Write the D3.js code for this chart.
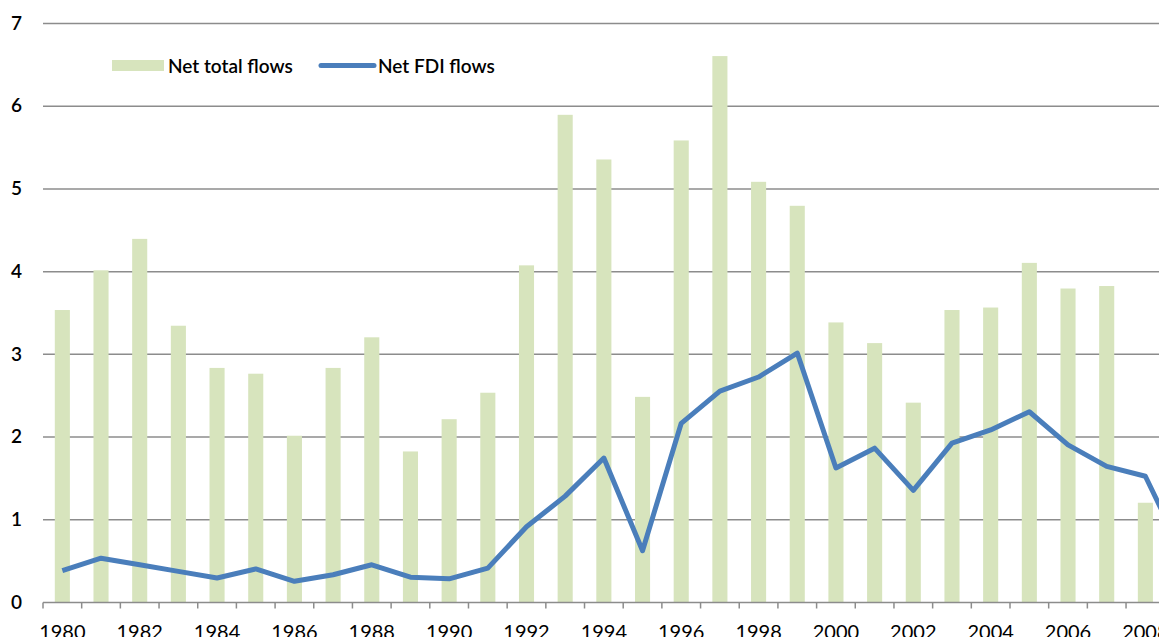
<!DOCTYPE html>
<html lang="en">
  <head>
    <meta charset="utf-8">
    <title>Net total flows and net FDI flows</title>
    <script src="https://cdn.jsdelivr.net/npm/d3@7"></script>
    <style>
      body { margin: 0; background: #fff; }
      svg { display: block; }
      text { font-family: Lato, "Open Sans", sans-serif; fill: #000; }
    </style>
  </head>
  <body>
    <script>

    // values (2009 bar is outside the frame)
    var years = d3.range(1980, 2010);
    var netTotal = [3.53, 4.01, 4.39, 3.34, 2.83, 2.76, 2.01, 2.83, 3.20, 1.82,
                    2.21, 2.53, 4.07, 5.89, 5.35, 2.48, 5.58, 6.60, 5.08, 4.79,
                    3.38, 3.13, 2.41, 3.53, 3.56, 4.10, 3.79, 3.82, 1.20, null];
    var netFdi = [0.38, 0.53, 0.45, 0.37, 0.29, 0.40, 0.25, 0.33, 0.45, 0.30,
                  0.28, 0.41, 0.91, 1.28, 1.74, 0.62, 2.16, 2.55, 2.72, 3.01,
                  1.62, 1.86, 1.35, 1.92, 2.08, 2.30, 1.90, 1.64, 1.52, 0.55];
    var yTicks = [0, 1, 2, 3, 4, 5, 6, 7];

    var w = 1159, h = 637;

    var svg = d3.select("body").append("svg")
        .attr("width", w)
        .attr("height", h);

    var x = d3.scaleBand()
        .domain(years)
        .range([43, 43 + years.length * 38.68])
        .paddingInner(0.61)
        .paddingOuter(0.305);

    var y = d3.scaleLinear()
        .domain([0, 7])
        .range([602, 23]);

    // gridlines
    svg.append("g")
      .selectAll("line")
      .data(yTicks.slice(1))
      .enter().append("line")
        .attr("x1", 43)
        .attr("x2", w)
        .attr("y1", function(d) { return y(d) + 0.5; })
        .attr("y2", function(d) { return y(d) + 0.5; })
        .attr("stroke", "#8c8c8c")
        .attr("stroke-width", 1.5);

    // y labels
    svg.append("g")
      .selectAll("text")
      .data(yTicks)
      .enter().append("text")
        .attr("x", 22)
        .attr("y", function(d) { return y(d); })
        .attr("dy", "0.35em")
        .attr("text-anchor", "end")
        .style("font-size", "19px")
        .style("font-weight", 600)
        .text(function(d) { return d; });

    // bars
    svg.append("g")
      .selectAll("rect")
      .data(years.filter(function(d, i) { return netTotal[i] != null; }))
      .enter().append("rect")
        .attr("x", function(d) { return x(d); })
        .attr("width", x.bandwidth())
        .attr("y", function(d) { return y(netTotal[d - 1980]); })
        .attr("height", function(d) { return y(0) - y(netTotal[d - 1980]); })
        .attr("fill", "#d7e4bd");

    // x axis (labels sit partly below the frame, as in the source picture)
    var xAxis = svg.append("g")
        .attr("transform", "translate(0," + (y(0) + 0.5) + ")");

    xAxis.append("line")
        .attr("x1", 43)
        .attr("x2", w)
        .attr("stroke", "#8c8c8c")
        .attr("stroke-width", 1.5);

    xAxis.selectAll(".tick")
        .data(years)
      .enter().append("line")
        .attr("class", "tick")
        .attr("x1", function(d) { return x(d) - x.step() * x.paddingOuter(); })
        .attr("x2", function(d) { return x(d) - x.step() * x.paddingOuter(); })
        .attr("y1", 0)
        .attr("y2", 6)
        .attr("stroke", "#8c8c8c")
        .attr("stroke-width", 1.5);

    xAxis.selectAll("text")
        .data(years.filter(function(d) { return d % 2 === 0; }))
      .enter().append("text")
        .attr("x", function(d) { return x(d) + x.bandwidth() / 2; })
        .attr("y", 36)
        .attr("text-anchor", "middle")
        .style("font-size", "20px")
        .text(function(d) { return d; });

    // FDI line
    var line = d3.line()
        .x(function(d, i) { return x(years[i]) + x.bandwidth() / 2; })
        .y(function(d) { return y(d); });

    svg.append("path")
        .datum(netFdi)
        .attr("d", line)
        .attr("fill", "none")
        .attr("stroke", "#4a7ebb")
        .attr("stroke-width", 5)
        .attr("stroke-linejoin", "round");

    // legend
    var legend = svg.append("g");

    legend.append("rect")
        .attr("x", 112)
        .attr("y", 60)
        .attr("width", 52)
        .attr("height", 11)
        .attr("fill", "#d7e4bd");

    legend.append("text")
        .attr("x", 168)
        .attr("y", 66)
        .attr("dy", "0.35em")
        .style("font-size", "19px")
        .style("font-weight", 600)
        .text("Net total flows");

    legend.append("line")
        .attr("x1", 321)
        .attr("x2", 374)
        .attr("y1", 65.5)
        .attr("y2", 65.5)
        .attr("stroke", "#4a7ebb")
        .attr("stroke-width", 5)
        .attr("stroke-linecap", "round");

    legend.append("text")
        .attr("x", 378)
        .attr("y", 66)
        .attr("dy", "0.35em")
        .style("font-size", "19px")
        .style("font-weight", 600)
        .text("Net FDI flows");

    </script>
  </body>
</html>
